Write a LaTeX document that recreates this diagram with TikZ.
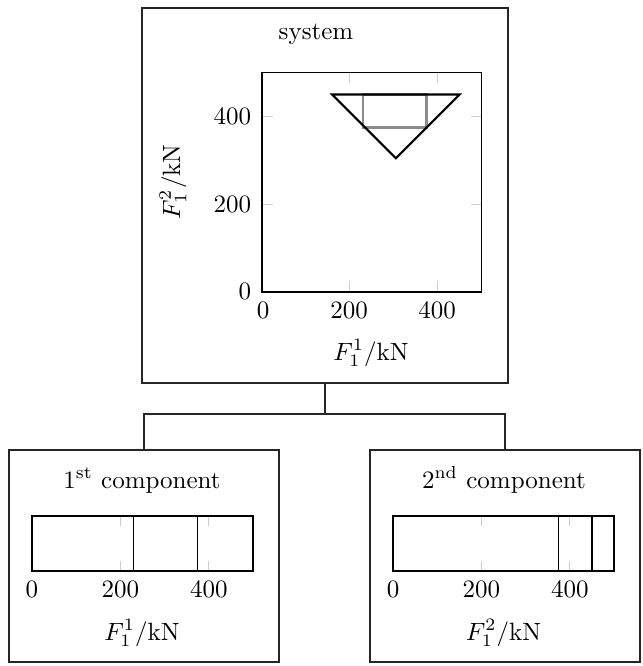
\documentclass[tikz,border=0pt]{standalone}
\usepackage{amsmath}
\tikzset{
  box/.style={draw=black!85, line width=0.6pt, inner sep=0pt, outer sep=0pt, rectangle},
  conn/.style={draw=black!85, line width=0.6pt},
  frame/.style={draw=black, line width=0.45pt},
  tickmark/.style={draw=black!20, line width=0.45pt},
  tri/.style={draw=black, line width=0.85pt, line join=miter},
  feas/.style={draw=black!45, line width=0.85pt},
  cut/.style={draw=black, line width=0.55pt},
  lbl/.style={inner sep=0pt, outer sep=0pt},
}
\begin{document}
\begin{tikzpicture}[x=0.4pt,y=-0.4pt]
\useasboundingbox (0,0) rectangle (642,666);
% boxes
\node[box, minimum width={366*0.4pt}, minimum height={375*0.4pt}] (sys) at (325,195.5) {};
\node[box, minimum width={270*0.4pt}, minimum height={212*0.4pt}] (c1) at (144,556) {};
\node[box, minimum width={270*0.4pt}, minimum height={212*0.4pt}] (c2) at (505,556) {};
\coordinate (j) at (325,414);
\draw[conn] (sys.south) -- (j);
\draw[conn] (j) -| (c1.north);
\draw[conn] (j) -| (c2.north);

% system plot
\node[lbl, anchor=base] (systitle) at (316,40) {system};
\begin{scope}[shift={(262,292)}]
\begin{scope}[x=0.1755pt, y=0.1755pt]
  \foreach \t in {200,400}{
    \draw[tickmark] (\t,0) -- (\t,24);
    \draw[tickmark] (\t,500) -- (\t,476);
    \draw[tickmark] (0,\t) -- (24,\t);
    \draw[tickmark] (500,\t) -- (476,\t);
  }
  \draw[frame] (0,0) rectangle (500,500);
  \draw[feas] (230,375) rectangle (375,450);
  \draw[tri] (160,450) -- (450,450) -- (305,305) -- cycle;
\end{scope}
\end{scope}
\node[lbl, anchor=east] (sy0) at (251,291) {0};
\node[lbl, anchor=east] (sy200) at (251,204) {200};
\node[lbl, anchor=east] (sy400) at (251,116) {400};
\node[lbl, anchor=north] (sx0) at (263,302) {0};
\node[lbl, anchor=north] (sx200) at (349,302) {200};
\node[lbl, anchor=north] (sx400) at (437,302) {400};
\node[lbl, anchor=base] (sxl) at (371,360) {$F_1^1/\mathrm{kN}$};
\node[lbl, rotate=90] (syl) at (173,182) {$F_1^2/\mathrm{kN}$};

% component 1
\node[lbl, anchor=base] (c1title) at (142,488) {1\textsuperscript{st} component};
\begin{scope}[shift={(32,571)}]
\begin{scope}[x=0.1768pt, y=0.4pt]
  \foreach \t in {200,400}{
    \draw[tickmark] (\t,0) -- (\t,10);
    \draw[tickmark] (\t,55) -- (\t,45);
  }
  \draw[frame] (0,0) rectangle (500,55);
  \draw[cut] (230,0) -- (230,55);
  \draw[cut] (375,0) -- (375,55);
\end{scope}
\end{scope}
\node[lbl, anchor=north] (a0) at (32,581) {0};
\node[lbl, anchor=north] (a200) at (120.4,581) {200};
\node[lbl, anchor=north] (a400) at (208.8,581) {400};
\node[lbl, anchor=base] (c1l) at (142,640) {$F_1^1/\mathrm{kN}$};

% component 2
\node[lbl, anchor=base] (c2title) at (504,488) {2\textsuperscript{nd} component};
\begin{scope}[shift={(393,571)}]
\begin{scope}[x=0.1768pt, y=0.4pt]
  \foreach \t in {200,400}{
    \draw[tickmark] (\t,0) -- (\t,10);
    \draw[tickmark] (\t,55) -- (\t,45);
  }
  \draw[frame] (0,0) rectangle (500,55);
  \draw[cut] (375,0) -- (375,55);
  \draw[cut] (450,0) -- (450,55);
\end{scope}
\end{scope}
\node[lbl, anchor=north] (b0) at (393,581) {0};
\node[lbl, anchor=north] (b200) at (481.4,581) {200};
\node[lbl, anchor=north] (b400) at (569.8,581) {400};
\node[lbl, anchor=base] (c2l) at (503.5,640) {$F_1^2/\mathrm{kN}$};
\end{tikzpicture}
\end{document}
